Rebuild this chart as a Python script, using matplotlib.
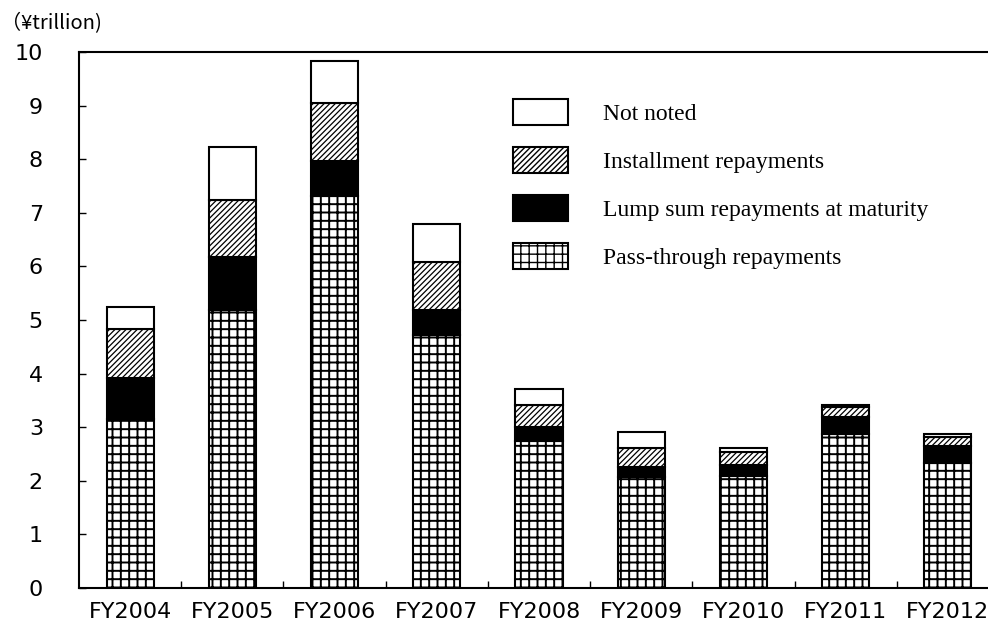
import matplotlib
matplotlib.use("Agg")
import matplotlib.pyplot as plt
import numpy as np

categories = ["FY2004", "FY2005", "FY2006", "FY2007", "FY2008",
              "FY2009", "FY2010", "FY2011", "FY2012"]
pass_through = [3.15, 5.19, 7.32, 4.72, 2.74, 2.07, 2.09, 2.87, 2.33]
lump_sum = [0.77, 0.99, 0.65, 0.46, 0.26, 0.19, 0.20, 0.32, 0.32]
installment = [0.91, 1.06, 1.08, 0.90, 0.41, 0.35, 0.25, 0.19, 0.17]
not_noted = [0.41, 0.99, 0.78, 0.72, 0.30, 0.30, 0.07, 0.03, 0.05]
y_ticks = [0, 1, 2, 3, 4, 5, 6, 7, 8, 9, 10]

fig = plt.figure(figsize=(9.88, 6.24), dpi=100)
ax = fig.add_axes([79/988, 1-588/624, (999-79)/988, (588-52)/624])

x = np.arange(len(categories))
w = 0.46
lw = 1.5

series = [
    ("Pass-through repayments", pass_through, dict(facecolor="white", hatch="++"), 1.4),
    ("Lump sum repayments at maturity", lump_sum, dict(facecolor="black"), 1.0),
    ("Installment repayments", installment, dict(facecolor="white", hatch="//////"), 0.9),
    ("Not noted", not_noted, dict(facecolor="white"), 1.0),
]

bottom = np.zeros(len(categories))
handles = []
for label, vals, style, hlw in series:
    with plt.rc_context({"hatch.linewidth": hlw, "hatch.color": "black"}):
        bars = ax.bar(x, vals, w, bottom=bottom, edgecolor="black",
                      linewidth=lw, label=label, zorder=3, **style)
        for b in bars:
            if hasattr(b, "set_hatch_linewidth"):
                b.set_hatch_linewidth(hlw)
    handles.append(bars)
    bottom = bottom + np.array(vals)

ax.set_xlim(-0.5, len(categories) - 0.5)
ax.set_ylim(0, 10)
ax.set_yticks(y_ticks)
ax.set_yticklabels([str(t) for t in y_ticks], fontsize=16)
ax.set_xticks(x)
ax.set_xticklabels(categories, fontsize=16)
ax.set_xticks(np.arange(len(categories) - 1) + 0.5, minor=True)
ax.tick_params(axis="x", which="major", length=0, pad=10)
ax.tick_params(axis="x", which="minor", direction="in", length=5, width=1)
ax.tick_params(axis="y", which="major", direction="in", length=5, width=1, pad=26)
for s in ax.spines.values():
    s.set_linewidth(1.5)

fig.text(1/988, 1-24/624, "（¥trillion)", fontsize=14.5, va="center", ha="left",
         family=["Noto Sans CJK JP", "DejaVu Sans"])

leg = ax.legend(handles=handles[::-1], labels=[s[0] for s in series][::-1],
                loc="upper left", bbox_to_anchor=(0.472, 0.912),
                frameon=False, prop={"family": "Liberation Serif", "size": 17},
                handlelength=2.33, handleheight=1.31, labelspacing=0.93,
                handletextpad=1.48, borderpad=0, borderaxespad=0)

fig.savefig("out.png", dpi=100)
